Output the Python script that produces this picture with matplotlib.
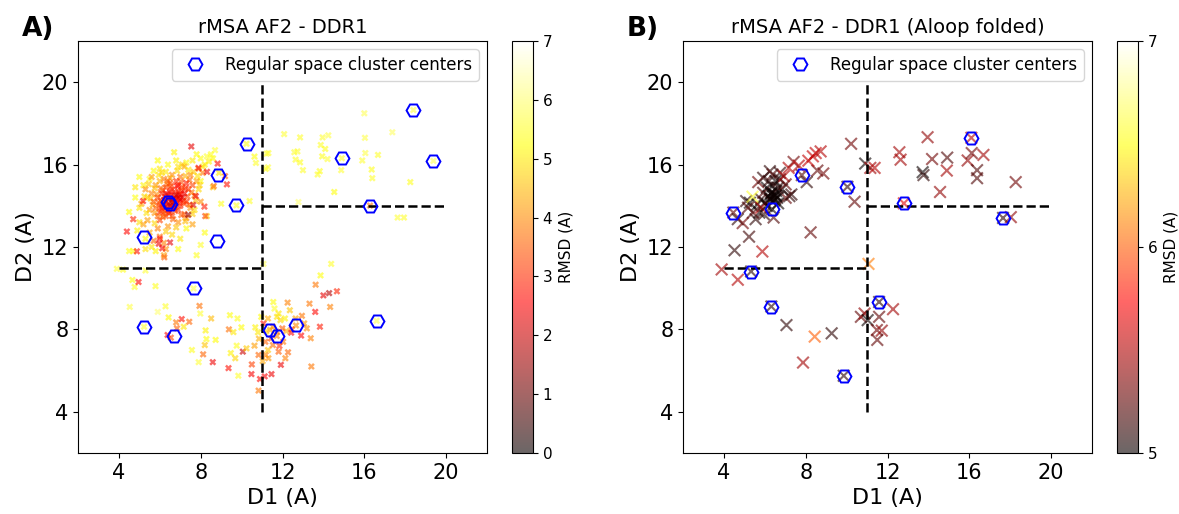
import matplotlib
matplotlib.use("Agg")
import matplotlib.pyplot as plt
import numpy as np

# ---------------- Panel A data (D1, D2, RMSD) ----------------
coreA_x = [6.3,6.5,6.7,6.9,6.1,6.4,6.6,7.0,6.2,6.8,6.0,7.1,6.5,6.3,6.9,7.2,6.1,6.7,7.3,6.4,
           5.9,6.6,6.8,7.0,6.2,7.4,6.0,6.5,7.1,5.8,6.9,7.3,6.3,5.7,6.6,7.6,6.0,7.2,6.8,5.9]
coreA_y = [14.2,14.0,14.4,14.7,13.9,14.5,14.8,14.3,14.3,14.1,14.0,14.9,13.7,13.5,15.0,14.6,14.6,13.9,15.1,13.8,
           14.4,14.2,14.5,14.0,13.6,14.8,13.7,15.1,14.4,13.9,13.8,14.2,14.9,14.2,13.5,15.0,13.3,13.6,15.2,13.5]
coreA_r = [2.4,2.1,2.6,2.9,2.7,2.3,3.0,2.5,2.2,2.8,3.1,3.2,2.9,3.3,2.7,2.4,3.0,2.3,2.8,2.6,
           3.2,1.9,2.0,2.9,3.4,3.1,3.0,3.3,2.2,3.5,3.1,3.0,3.2,3.4,3.3,3.2,3.2,3.4,3.0,3.6]

dense_x = [6.05,6.15,6.25,6.35,6.45,6.55,6.65,6.75,6.85,6.95,7.05,6.15,6.25,6.45,6.75,6.95,7.15,7.25,7.35,6.55,
           6.85,5.95,5.85,6.05,6.35,7.05,7.45,7.55,7.45,7.05,6.65,6.15,5.75,5.65,5.55,5.75,6.0,6.5,7.25,7.65,
           7.85,7.95,7.75,7.6,7.25,6.8,6.3,5.75,5.35,5.25,5.45,5.95,6.3,6.85,7.4,8.1,8.4,8.6,6.6,6.4,
           6.3,6.7,6.9,6.5,6.2,7.0,6.6,6.1,7.2,6.4]
dense_y = [14.25,14.05,14.45,13.95,14.35,14.55,14.15,14.65,14.35,14.55,14.75,14.75,13.75,13.65,13.75,14.15,14.25,14.85,14.45,14.95,
           14.95,14.15,14.55,14.85,15.05,15.15,15.25,14.65,14.05,13.55,13.35,13.45,13.65,14.05,14.35,14.85,15.2,15.35,15.45,15.65,
           15.45,15.0,14.25,13.6,13.25,12.95,12.75,13.15,13.65,14.45,15.05,15.5,15.65,15.7,15.75,15.9,16.15,16.3,14.3,14.1,
           14.6,14.0,14.4,14.7,14.1,14.55,13.9,13.8,14.1,15.2]
dense_r = [3.0,2.6,2.9,2.5,2.2,2.7,2.4,2.8,2.1,2.5,3.0,3.3,3.1,2.8,3.2,2.6,3.1,2.9,3.3,3.1,
           2.6,3.5,4.0,3.7,3.9,3.4,3.6,3.8,3.7,3.5,3.6,3.8,4.1,4.4,4.6,4.5,4.4,4.3,4.4,4.6,
           4.9,4.7,4.5,4.7,4.5,4.6,4.7,4.8,4.9,4.8,4.7,4.9,5.0,4.8,5.0,4.9,5.1,5.2,2.3,2.0,
           2.4,2.2,2.4,2.6,2.8,2.7,2.9,3.4,3.3,3.6]

ringA_x = [5.5,5.6,5.4,5.8,6.2,6.6,7.0,7.5,7.8,7.7,7.5,7.3,6.9,6.4,5.9,5.5,5.2,5.1,5.3,7.9,
           8.1,6.0,6.2,6.3,6.2,5.7,7.6,8.0,5.6,7.2]
ringA_y = [13.8,14.6,13.3,15.0,15.3,15.5,15.4,15.5,15.2,14.5,13.9,13.4,13.2,13.0,12.9,12.7,13.1,14.1,14.8,15.8,
           15.6,12.5,12.2,11.9,11.6,12.3,13.1,14.2,15.4,15.9]
ringA_r = [4.0,3.9,4.2,4.1,3.8,4.0,3.7,3.9,4.2,3.8,4.1,3.9,4.0,4.1,3.9,4.3,4.2,4.3,4.0,4.1,
           3.8,3.7,3.9,4.0,4.2,3.6,4.2,4.0,4.2,4.3]

outerA_x = [4.5,4.8,5.0,5.2,5.5,5.7,6.0,6.1,6.4,6.8,6.9,7.3,7.6,8.0,8.3,8.5,8.7,8.2,7.8,5.0,
            4.9,5.3,5.6,5.3,4.7,4.5,5.8,6.9,7.3,7.8,8.0,8.2,8.0,7.9,8.3,7.7,8.6,4.8,5.0,5.9,
            6.7,7.1,5.4,6.6,7.0,9.0,8.9]
outerA_y = [13.7,14.4,13.9,15.0,15.3,15.7,15.8,15.6,16.0,16.2,15.9,16.1,16.2,16.3,16.4,16.5,16.7,16.0,16.5,13.2,
            12.8,12.4,12.0,11.9,11.8,11.8,11.8,11.9,12.9,11.6,12.1,12.7,15.2,14.8,13.5,13.8,14.9,14.9,15.4,16.2,
            16.6,16.0,14.4,12.6,12.4,14.1,15.6]
outerA_r = [5.2,5.3,5.0,5.1,5.4,5.2,5.0,4.8,5.3,5.1,4.9,5.2,5.0,5.3,5.5,5.4,5.6,5.1,5.2,4.9,
            5.1,5.2,5.0,4.9,5.3,5.4,5.1,5.3,5.2,5.4,5.5,5.3,5.2,4.8,4.7,4.9,4.6,5.0,5.3,5.2,
            5.1,4.8,4.7,4.8,5.0,5.4,5.0]

redA_x = [7.54,8.83,7.89,8.31,9.28,9.19,7.63,8.18,7.39,8.22,7.76,6.5,6.0,6.12,6.22,5.95,4.88,4.39,4.7,5.18,8.64]
redA_y = [16.88,16.05,15.84,15.65,15.04,15.44,14.04,13.96,13.56,13.5,14.47,12.22,12.4,11.94,11.5,12.16,11.79,12.75,13.35,14.23,14.96]
redA_r = [2.3,2.6,2.5,2.4,2.7,3.5,2.2,2.8,1.5,3.3,2.4,2.3,2.6,2.5,3.5,2.4,2.7,2.6,2.9,2.6,3.7]

upperA_x = [16.0,17.37,12.08,12.86,13.96,14.24,16.03,13.87,14.09,12.73,12.64,12.86,12.58,13.0,13.94,14.2,16.05,16.67,
            15.9,16.36,16.39,14.87,13.82,13.72,14.53,18.25,17.63,17.94,10.63,10.7,11.22,11.31,11.18,11.29,10.39,
            12.78,11.07,18.4,19.38,14.9,10.24,16.28,9.75]
upperA_y = [18.49,17.57,17.48,17.32,17.32,17.42,17.30,16.95,16.76,16.64,16.24,16.11,16.6,15.73,16.40,16.27,16.56,16.47,
            16.2,15.76,15.34,15.73,15.68,15.52,14.67,15.15,13.43,13.43,16.39,16.08,16.53,16.56,15.79,15.87,14.23,
            14.18,11.18,18.65,16.18,16.31,17.01,14.01,14.02]
upperA_r = [5.8,5.9,5.6,5.5,5.6,5.7,5.7,5.5,5.4,5.6,5.5,5.4,5.6,5.5,5.4,5.6,5.7,5.5,
            5.6,5.4,5.5,5.6,5.4,5.5,5.3,5.4,5.6,5.5,5.3,5.5,5.6,5.5,5.4,5.6,5.5,
            6.0,5.8,5.7,5.8,5.5,5.4,3.8,5.5]

lowerA_x = [3.9,4.2,4.66,4.77,4.96,5.3,5.79,4.53,6.28,6.43,5.9,7.07,6.8,7.44,7.17,6.84,7.94,7.98,8.51,8.24,
            8.28,7.57,8.2,8.12,7.9,8.59,8.73,9.36,9.43,9.38,9.6,9.47,9.69,9.76,9.84,10.06,10.24,9.99,9.8,10.48,
            10.67,10.63,10.8,10.85,10.83,10.83,10.9,11.03,11.13,11.18,11.29,11.46,11.31,11.53,11.81,11.92,12.14,12.03,12.27,12.42,
            12.18,11.9,11.73,11.61,11.55,11.81,12.25,12.36,12.12,12.64,12.95,13.06,12.91,13.19,13.38,13.32,13.6,13.83,13.41,13.62,
            13.86,14.0,14.28,14.66,14.38,14.33,10.96,11.07,11.29,11.73,11.99,11.53,11.16,11.44,6.38,6.54,7.65,5.23,11.4,11.72,
            12.66,16.6,12.45,11.85,11.2,10.5]
lowerA_y = [10.94,10.9,10.4,10.06,10.3,10.86,10.1,9.09,9.12,8.58,8.85,8.5,8.34,8.37,8.13,8.05,9.14,8.77,8.53,7.95,
            7.53,7.0,7.24,6.79,6.41,6.41,7.49,6.12,8.69,8.0,7.87,6.85,6.6,7.21,5.75,6.92,7.08,8.1,8.53,5.83,
            8.1,7.21,7.86,7.55,6.76,5.03,5.59,6.46,5.72,6.76,7.0,5.83,6.6,7.24,6.92,6.28,6.6,7.40,6.89,7.84,
            7.92,8.45,8.61,9.01,9.33,8.77,9.3,8.93,8.53,8.53,8.66,8.29,7.7,8.05,7.57,9.25,8.85,8.13,6.2,10.17,
            10.62,9.65,9.76,9.85,11.18,9.09,8.61,8.29,8.53,7.89,8.05,8.13,7.40,7.56,7.73,7.6,9.99,8.13,7.98,7.68,
            8.19,8.42,8.0,7.2,7.9,6.3]
lowerA_r = [5.6,5.4,5.3,5.5,2.6,5.6,5.4,5.7,5.5,5.2,6.0,2.7,3.8,3.6,5.0,3.5,3.7,5.6,4.5,5.1,
            5.3,5.4,4.6,3.6,5.6,2.4,5.2,2.7,5.3,3.7,5.0,5.1,4.8,5.4,5.5,2.0,4.7,5.2,5.4,2.5,
            5.1,4.2,5.0,4.4,3.6,3.8,2.6,4.3,2.5,3.9,4.6,2.4,4.1,3.7,3.5,2.4,3.9,3.8,3.6,2.6,
            4.3,4.8,4.9,5.5,5.3,5.0,3.9,4.6,5.1,4.2,3.8,4.1,2.6,4.0,3.9,3.8,2.6,2.8,3.8,3.8,
            5.3,2.3,1.8,2.9,5.5,3.9,5.2,2.7,4.4,3.8,3.5,4.0,3.6,3.4,2.6,3.3,5.7,5.6,4.2,3.9,
            4.0,5.8,3.3,3.0,4.7,3.2]

# cluster centers A
centA_x = [18.4,19.38,14.9,10.24,8.84,9.75,16.28,6.39,6.49,5.23,8.81,7.65,5.23,6.67,16.6,11.4,11.72,12.66]
centA_y = [18.65,16.18,16.31,17.01,15.49,14.02,14.01,14.2,14.1,12.5,12.29,9.99,8.13,7.68,8.42,7.98,7.68,8.19]

# ---------------- Panel B data ----------------
xB = [3.89,4.68,4.52,4.46,4.68,4.92,5.23,5.88,5.33,6.32,7.06,8.44,9.27,7.87,9.86,8.24,8.57,8.86,8.05,7.41,
      7.66,8.13,8.35,8.49,8.73,10.22,10.39,10.04,10.91,11.16,11.37,11.07,10.7,10.88,11.03,11.59,11.59,12.27,11.48,11.72,
      11.5,12.8,12.58,12.64,13.96,13.72,13.76,14.18,14.92,14.9,14.57,16.1,15.92,16.12,16.69,16.38,16.38,18.27,17.65,18.03,
      5.09,5.27,5.18,5.55,5.73,5.42,5.68,5.92,6.25,6.38,6.74,6.52,6.74,6.93,7.17,7.2,7.02,7.3,6.84,6.43,
      6.1,6.19,6.28,6.47,6.56,6.38,6.65,6.0,5.82,6.1,5.64,5.92,6.5,6.61,6.19,5.82,5.95,6.65,7.02,5.4,
      6.36,6.42,6.3,6.45,6.55,6.25,6.33,7.81]
yB = [10.91,10.41,11.84,13.67,13.35,13.16,12.5,11.78,10.81,9.11,8.21,7.65,7.81,6.39,5.75,12.71,15.71,15.57,15.15,16.13,
      15.95,16.19,16.4,16.56,16.64,17.01,14.2,14.92,16.05,15.84,15.84,11.18,8.61,8.77,8.45,9.33,8.61,8.98,7.97,7.94,
      7.49,14.12,16.6,16.24,17.33,15.63,15.49,16.27,16.34,15.71,14.67,17.3,16.2,16.56,16.47,15.73,15.34,15.15,13.41,13.45,
      14.23,14.15,13.91,13.35,13.67,13.67,15.15,15.36,15.68,15.52,15.6,15.2,15.28,15.44,15.84,14.47,14.39,14.55,14.8,13.43,
      14.88,14.47,14.31,14.55,14.72,14.96,14.88,14.15,14.31,13.99,14.07,14.63,14.31,14.39,15.2,13.91,13.59,14.12,15.04,14.44,
      13.83,14.45,14.6,14.25,14.5,14.35,14.65,15.49]
rB = [5.45,5.5,5.1,5.25,5.1,5.3,5.15,5.5,5.1,5.1,5.1,6.0,5.1,5.45,5.1,5.25,5.25,5.3,5.1,5.3,
      5.5,5.55,5.55,5.55,5.5,5.3,5.25,5.1,5.0,5.45,5.5,6.1,5.25,5.4,5.0,5.1,5.25,5.45,5.3,5.4,
      5.25,5.65,5.45,5.45,5.4,5.0,5.1,5.3,5.2,5.45,5.4,5.5,5.4,5.3,5.45,5.2,5.2,5.3,5.1,5.4,
      5.1,5.0,5.2,5.1,5.0,5.2,5.3,5.1,5.1,5.2,5.1,5.0,5.1,5.5,5.5,5.1,5.25,5.1,5.0,5.2,
      5.0,5.0,5.0,5.0,5.0,5.0,5.1,5.0,5.1,5.0,5.0,5.2,5.0,5.0,5.1,5.5,5.1,5.0,5.25,6.6,
      5.0,5.0,5.0,5.0,5.0,5.0,5.0,5.2]
centB_x = [4.46,5.33,6.32,6.36,7.81,10.04,9.86,11.59,12.8,16.1,17.65]
centB_y = [13.67,10.81,9.11,13.83,15.49,14.92,5.75,9.33,14.12,17.3,13.41]

ticks = [4, 8, 12, 16, 20]

xA = outerA_x + ringA_x + dense_x + coreA_x + redA_x + upperA_x + lowerA_x
yA = outerA_y + ringA_y + dense_y + coreA_y + redA_y + upperA_y + lowerA_y
rA = outerA_r + ringA_r + dense_r + coreA_r + redA_r + upperA_r + lowerA_r

fig = plt.figure(figsize=(11.79, 5.14), dpi=100)
W, H = 1179, 514
axA = fig.add_axes([78/W, (H-453)/H, 409/W, 412/H])
cbA = fig.add_axes([512/W, (H-453)/H, 21/W, 412/H])
axB = fig.add_axes([683/W, (H-453)/H, 409/W, 412/H])
cbB = fig.add_axes([1117/W, (H-453)/H, 21/W, 412/H])


def decorate(ax, cx, cy, title):
    ax.plot(cx, cy, linestyle='none', marker='H', markersize=10, markerfacecolor='none',
            markeredgecolor='blue', markeredgewidth=1.4, label='Regular space cluster centers', zorder=4)
    ax.plot([11, 11], [4, 20], 'k--', lw=1.8, zorder=3)
    ax.plot([4, 11], [11, 11], 'k--', lw=1.8, zorder=3)
    ax.plot([11, 20], [14, 14], 'k--', lw=1.8, zorder=3)
    ax.set_xlim(2, 22)
    ax.set_ylim(2, 22)
    ax.set_xticks(ticks)
    ax.set_yticks(ticks)
    ax.tick_params(labelsize=15)
    ax.set_xlabel('D1 (A)', fontsize=16)
    ax.set_ylabel('D2 (A)', fontsize=16)
    ax.set_title(title, fontsize=14)
    ax.legend(loc='upper right', fontsize=12)


scA = axA.scatter(xA, yA, c=rA, cmap='hot', vmin=0, vmax=7, marker='X', s=25,
                  alpha=0.6, linewidths=0, zorder=2)
decorate(axA, centA_x, centA_y, 'rMSA AF2 - DDR1')
cA = fig.colorbar(scA, cax=cbA)
cA.set_label('RMSD (A)', fontsize=11)
cA.ax.tick_params(labelsize=11)

scB = axB.scatter(xB, yB, c=rB, cmap='hot', vmin=5, vmax=7, marker='x', s=70,
                  alpha=0.6, linewidths=1.5, zorder=2)
decorate(axB, centB_x, centB_y, 'rMSA AF2 - DDR1 (Aloop folded)')
cB = fig.colorbar(scB, cax=cbB, ticks=[5, 6, 7])
cB.set_label('RMSD (A)', fontsize=11)
cB.ax.tick_params(labelsize=11)

fig.text(22/W, 1 - 36/H, 'A)', fontsize=19, fontweight='bold')
fig.text(627/W, 1 - 36/H, 'B)', fontsize=19, fontweight='bold')

fig.savefig('out.png', dpi=100)
